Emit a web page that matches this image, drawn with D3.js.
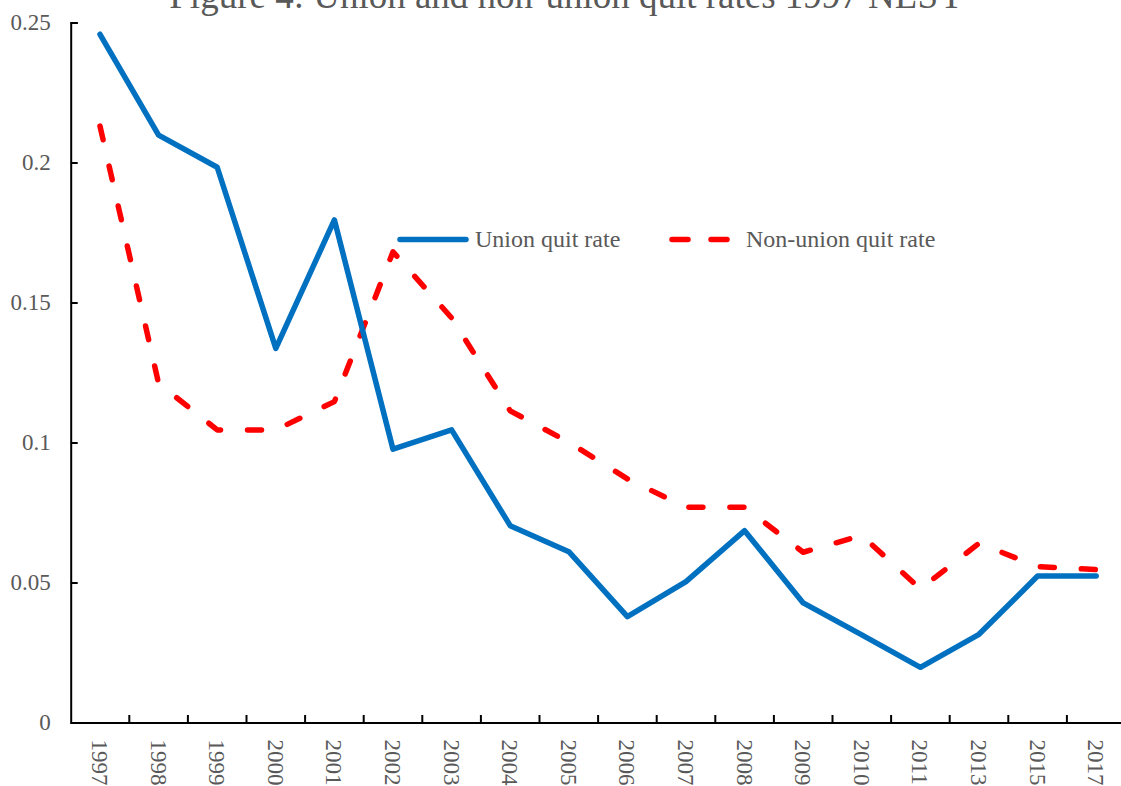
<!DOCTYPE html>
<html>
<head>
<meta charset="utf-8">
<script src="https://cdn.jsdelivr.net/npm/d3@7"></script>
<style>
  html, body { margin: 0; padding: 0; background: #fff; overflow: hidden; }
  svg { display: block; }
  svg text { font-family: "Liberation Serif", "Times New Roman", serif; }
</style>
</head>
<body>
<svg id="chart" width="1121" height="786"></svg>
<script>
var years = ['1997','1998','1999','2000','2001','2002','2003','2004','2005','2006',
             '2007','2008','2009','2010','2011','2013','2015','2017'];
var unionQuit = [0.2458, 0.2098, 0.1983, 0.1336, 0.1795, 0.0976, 0.1045, 0.0703, 0.0610, 0.0378,
                 0.0503, 0.0685, 0.0427, 0.0313, 0.0197, 0.0315, 0.0523, 0.0523];
var nonUnionQuit = [0.2130, 0.1211, 0.1045, 0.1045, 0.1146, 0.1681, 0.1445, 0.1113, 0.1001, 0.0870,
                    0.0769, 0.0769, 0.0608, 0.0668, 0.0477, 0.0640, 0.0557, 0.0546];
var yTicks = [0, 0.05, 0.1, 0.15, 0.2, 0.25];
var seriesNames = ['Union quit rate', 'Non-union quit rate'];
var titleText = 'Figure 4: Union and non-union quit rates 1997 NLSY';

var svg = d3.select('#chart');
var textColor = '#595959';
var serif = '"Liberation Serif", "Times New Roman", serif';
var plotLeft = 70.7, plotBottom = 722.5, plotTop = 22.5, bandStep = 58.6;

var x = d3.scaleBand()
    .domain(years)
    .range([plotLeft, plotLeft + bandStep * years.length])
    .padding(0);
var y = d3.scaleLinear()
    .domain([0, 0.25])
    .range([plotBottom, plotTop]);

// title (sits partly above the page edge, like the original)
svg.append('text')
    .attr('x', 567)
    .attr('y', 8)
    .attr('text-anchor', 'middle')
    .attr('fill', textColor)
    .attr('font-family', serif)
    .style('font-size', '37px')
    .text(titleText);

// y axis, ticks point inward
var yAxis = svg.append('g')
    .attr('transform', 'translate(' + plotLeft + ',0)')
    .call(d3.axisLeft(y)
        .tickValues(yTicks)
        .tickSize(-7)
        .tickPadding(20)
        .tickFormat(function(d) { return d === 0 ? '0' : String(+d.toFixed(2)); }));
yAxis.select('.domain').attr('stroke', '#000').attr('stroke-width', 2);
yAxis.selectAll('.tick line').attr('stroke', '#000').attr('stroke-width', 2);
yAxis.selectAll('text')
    .attr('fill', textColor)
    .attr('font-family', serif)
    .style('font-size', '23px');

// x axis, labels rotated, ticks between categories
var xAxis = svg.append('g')
    .attr('transform', 'translate(0,' + plotBottom + ')')
    .call(d3.axisBottom(x).tickSize(0).tickSizeOuter(0));
xAxis.select('.domain').attr('stroke', '#000').attr('stroke-width', 2);
xAxis.selectAll('.tick text')
    .attr('transform', 'rotate(90)')
    .attr('x', 17)
    .attr('y', 0)
    .attr('dy', '0.35em')
    .attr('fill', textColor)
    .attr('font-family', serif)
    .style('text-anchor', 'start')
    .style('font-size', '23px');
xAxis.selectAll('.tick').append('line')
    .attr('x1', x.bandwidth() / 2)
    .attr('x2', x.bandwidth() / 2)
    .attr('y1', 0)
    .attr('y2', -7.5)
    .attr('stroke', '#000')
    .attr('stroke-width', 2);

var line = d3.line()
    .x(function(d, i) { return x(years[i]) + x.bandwidth() / 2; })
    .y(function(d) { return y(d); });

svg.append('path')
    .datum(nonUnionQuit)
    .attr('d', line)
    .attr('fill', 'none')
    .attr('stroke', '#FF0000')
    .attr('stroke-width', 5.5)
    .attr('stroke-linecap', 'round')
    .attr('stroke-linejoin', 'round')
    .attr('stroke-dasharray', '14,27');

svg.append('path')
    .datum(unionQuit)
    .attr('d', line)
    .attr('fill', 'none')
    .attr('stroke', '#0070C0')
    .attr('stroke-width', 5.5)
    .attr('stroke-linecap', 'round')
    .attr('stroke-linejoin', 'round');

// legend
var legend = svg.append('g').attr('transform', 'translate(0,239.5)');
legend.append('line')
    .attr('x1', 400).attr('x2', 466).attr('y1', 0).attr('y2', 0)
    .attr('stroke', '#0070C0').attr('stroke-width', 5.5).attr('stroke-linecap', 'round');
legend.append('text')
    .attr('x', 475).attr('y', 0).attr('dy', '0.33em')
    .attr('fill', textColor).attr('font-family', serif).style('font-size', '24px')
    .text(seriesNames[0]);
legend.append('line')
    .attr('x1', 672).attr('x2', 731).attr('y1', 0).attr('y2', 0)
    .attr('stroke', '#FF0000').attr('stroke-width', 5.5).attr('stroke-linecap', 'round')
    .attr('stroke-dasharray', '16,23');
legend.append('text')
    .attr('x', 746).attr('y', 0).attr('dy', '0.33em')
    .attr('fill', textColor).attr('font-family', serif).style('font-size', '24px')
    .text(seriesNames[1]);
</script>
</body>
</html>
